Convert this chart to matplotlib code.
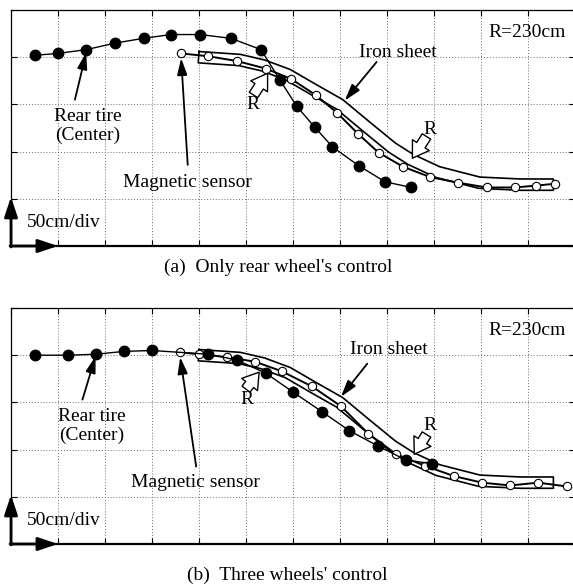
import numpy as np
import matplotlib
matplotlib.use("Agg")
from matplotlib import pyplot as plt

plt.rcParams['font.family'] = ['Liberation Serif', 'DejaVu Serif']

# positions in cm (50 cm per grid division)
rearAx = [25, 50, 80, 111, 141, 170, 201, 234, 266, 286, 304, 323, 342, 370, 398, 426]
rearAy = [202, 204, 208, 215, 220, 224, 224, 220, 208, 176, 148, 126, 105, 85, 68, 62]
sensorAx = [181, 210, 240, 271, 298, 324, 347, 369, 391, 417, 446, 476, 506, 536, 559, 579]
sensorAy = [204, 201, 196, 188, 177, 160, 141, 119, 99, 84, 73, 67, 62, 62, 64, 66]

rearBx = [25, 61, 90, 120, 150, 210, 240, 271, 300, 331, 360, 390, 420, 448]
rearBy = [200, 200, 201, 204, 205, 201, 195, 181, 161, 140, 120, 104, 89, 85]
sensorBx = [180, 200, 230, 260, 288, 320, 351, 380, 410, 440, 471, 501, 531, 561, 591]
sensorBy = [203, 201, 198, 193, 183, 167, 146, 117, 95, 83, 72, 65, 62, 65, 61]

# upper edge of the iron sheet (same sheet in both runs)
sheetX = [200, 244, 270, 297, 323, 353, 382, 409, 428, 456, 499, 542, 577]
sheetY = [206, 203, 197, 187, 172, 155, 131, 109, 97, 84, 73, 71, 71]
sheetWidth = 12

captions = ["(a)  Only rear wheel's control", "(b)  Three wheels' control"]


def sheetOutline():
    x = np.array(sheetX, float)
    y = np.array(sheetY, float)
    tx = np.gradient(x)
    ty = np.gradient(y)
    n = np.hypot(tx, ty)
    tx, ty = tx / n, ty / n
    lx = x + sheetWidth * ty
    ly = y - sheetWidth * tx
    px = np.concatenate([x, lx[::-1], x[:1]])
    py = np.concatenate([y, ly[::-1], y[:1]])
    return px, py


def drawPanel(ax, rx, ry, sx, sy, labels):
    ax.set_xlim(0, 600)
    ax.set_ylim(0, 250)
    ax.set_xticks(np.arange(0, 601, 50))
    ax.set_yticks(np.arange(0, 251, 50))
    ax.set_xticklabels([])
    ax.set_yticklabels([])
    ax.tick_params(direction='in', length=4, top=True, right=True, width=0.8)
    ax.grid(True, color='#6e6e6e', linestyle=(0, (1, 2)), linewidth=0.7)
    for s in ax.spines.values():
        s.set_linewidth(0.9)
    ax.spines['bottom'].set_linewidth(1.6)

    px, py = sheetOutline()
    ax.fill(px, py, color='white', zorder=2)
    ax.plot(px, py, color='black', lw=1.2, zorder=3)

    ax.plot(sx, sy, color='black', lw=1.4, zorder=4)
    ax.plot(sx, sy, 'o', ms=6, mfc='white', mec='black', mew=0.8, zorder=5)
    ax.plot(rx, ry, '-', color='black', lw=1.0, zorder=6)
    ax.plot(rx, ry, 'o', ms=7.5, color='black', zorder=7)

    arr = dict(arrowstyle='-|>,head_length=1.0,head_width=0.3', color='black',
               lw=1.3, mutation_scale=10, shrinkA=0, shrinkB=0)
    for txt, xy, xyt, tpos in labels['line']:
        ax.annotate('', xy=xy, xytext=xyt, arrowprops=arr, zorder=8)
        ax.text(tpos[0], tpos[1], txt, ha='center', va='center', fontsize=14,
                linespacing=1.1, zorder=8)
    hollow = dict(arrowstyle='simple,head_length=0.7,head_width=0.9,tail_width=0.45',
                  fc='white', ec='black', lw=1.0, mutation_scale=16,
                  shrinkA=0, shrinkB=0)
    for xy, xyt, tpos in labels['R']:
        ax.annotate('', xy=xy, xytext=xyt, arrowprops=hollow, zorder=8)
        ax.text(tpos[0], tpos[1], 'R', ha='center', va='center', fontsize=14, zorder=8)

    ax.text(549, 226, 'R=230cm', ha='center', va='center', fontsize=14)
    ax.text(17, 25, '50cm/div', ha='left', va='center', fontsize=14)

    corner = dict(arrowstyle='-|>,head_length=1.2,head_width=0.4', color='black',
                  lw=2, mutation_scale=10, shrinkA=0, shrinkB=0)
    ax.annotate('', xy=(0, 52), xytext=(0, -1), arrowprops=corner, annotation_clip=False)
    ax.annotate('', xy=(50, 0), xytext=(-1, 0), arrowprops=corner, annotation_clip=False)


fig = plt.figure(figsize=(5.73, 5.84), dpi=100)
w = 564 / 573
h = 236 / 584
axA = fig.add_axes([11 / 573, (584 - 246) / 584, w, h])
axB = fig.add_axes([11 / 573, (584 - 544) / 584, w, h])

labelsA = {
    'line': [
        ('Rear tire\n(Center)', (80, 205), (68, 155), (82, 127)),
        ('Magnetic sensor', (181, 199), (188, 86), (188, 67)),
        ('Iron sheet', (355, 154), (389, 195), (412, 205)),
    ],
    'R': [
        ((273, 183), (258, 160), (257, 150)),
        ((427, 93), (442, 116), (446, 123)),
    ],
}
labelsB = {
    'line': [
        ('Rear tire\n(Center)', (90, 199), (76, 153), (86, 125)),
        ('Magnetic sensor', (180, 198), (197, 82), (196, 65)),
        ('Iron sheet', (351, 156), (379, 191), (402, 206)),
    ],
    'R': [
        ((264, 182), (250, 164), (251, 153)),
        ((429, 95), (442, 116), (446, 125)),
    ],
}

drawPanel(axA, rearAx, rearAy, sensorAx, sensorAy, labelsA)
drawPanel(axB, rearBx, rearBy, sensorBx, sensorBy, labelsB)

fig.text(278 / 573, 1 - 267 / 584, captions[0], ha='center', va='center', fontsize=14)
fig.text(287 / 573, 1 - 575 / 584, captions[1], ha='center', va='center', fontsize=14)

fig.savefig('out.png', dpi=100)
